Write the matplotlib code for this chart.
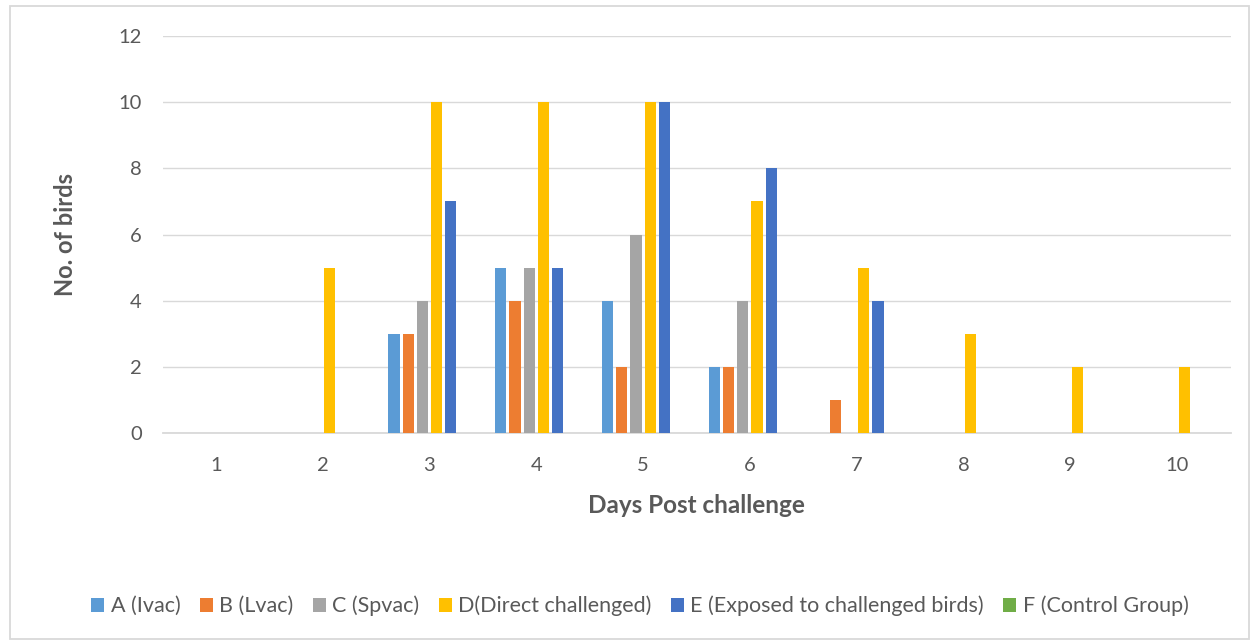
import matplotlib
matplotlib.use("Agg")
import matplotlib.pyplot as plt
import numpy as np
from matplotlib.patches import Rectangle

days = ["1", "2", "3", "4", "5", "6", "7", "8", "9", "10"]
series_names = ["A (Ivac)", "B (Lvac)", "C (Spvac)", "D(Direct challenged)",
                "E (Exposed to challenged birds)", "F (Control Group)"]
a_ivac = [0, 0, 3, 5, 4, 2, 0, 0, 0, 0]
b_lvac = [0, 0, 3, 4, 2, 2, 1, 0, 0, 0]
c_spvac = [0, 0, 4, 5, 6, 4, 0, 0, 0, 0]
d_direct = [0, 5, 10, 10, 10, 7, 5, 3, 2, 2]
e_exposed = [0, 0, 7, 5, 10, 8, 4, 0, 0, 0]
f_control = [0, 0, 0, 0, 0, 0, 0, 0, 0, 0]
colors = ["#5B9BD5", "#ED7D31", "#A5A5A5", "#FFC000", "#4472C4", "#70AD47"]

plt.rcParams['font.family'] = ['Lato', 'DejaVu Sans']
W, H = 1254, 640
fig = plt.figure(figsize=(W / 100, H / 100), dpi=100)
ax = fig.add_axes([162.5 / W, 1 - 433 / H, (1230.5 - 162.5) / W, (433 - 36) / H])

data = [a_ivac, b_lvac, c_spvac, d_direct, e_exposed, f_control]
x = np.arange(len(days))
step = 0.133
width = 0.105
for i, (vals, name, col) in enumerate(zip(data, series_names, colors)):
    ax.bar(x + (i - 2.5) * step, vals, width, color=col, label=name, zorder=3)

ax.set_xlim(-0.5, len(days) - 0.5)
ax.set_ylim(0, 12)
ax.set_yticks(range(0, 13, 2))
ax.set_xticks(x)
ax.set_xticklabels(days)
ax.grid(axis='y', color='#D9D9D9', linewidth=1, zorder=0)
for s in ['top', 'right', 'left']:
    ax.spines[s].set_visible(False)
ax.spines['bottom'].set_color('#D9D9D9')
ax.spines['bottom'].set_linewidth(1.3)
ax.tick_params(axis='both', length=0, colors='#595959', labelsize=14.5)
ax.tick_params(axis='y', pad=15)
ax.tick_params(axis='x', pad=17)
ax.set_xlabel("Days Post challenge", fontsize=17.5, fontweight='bold', color='#595959', labelpad=15)
ax.set_ylabel("No. of birds", fontsize=17, fontweight='bold', color='#595959', labelpad=30)

fig.legend(loc='center', bbox_to_anchor=(640 / W, 1 - 606 / H), ncol=6, frameon=False,
           fontsize=15.5, labelcolor='#595959', handlelength=0.6, handleheight=0.6,
           handletextpad=0.3, columnspacing=0.9)

fig.patches.append(Rectangle((10 / W, 0.002), (1249 - 10) / W, 1 - 6 / H - 0.002,
                             transform=fig.transFigure, fill=False,
                             edgecolor='#D9D9D9', linewidth=1.3))

fig.savefig("out.png", dpi=100, facecolor='white')
